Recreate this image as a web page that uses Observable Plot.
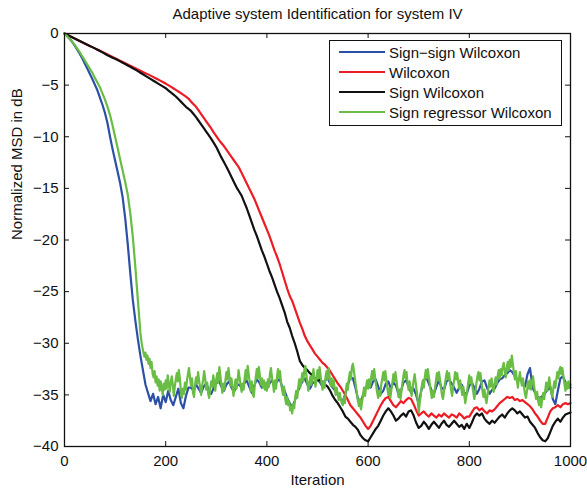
<!DOCTYPE html>
<html>
<head>
<meta charset="utf-8">
<script src="https://cdn.jsdelivr.net/npm/d3@7"></script>
<script src="https://cdn.jsdelivr.net/npm/@observablehq/plot@0.6"></script>
<style>
  html, body { margin: 0; padding: 0; background: #fff; }
  #wrap { position: relative; width: 587px; height: 493px; font-family: "Liberation Sans", Arial, sans-serif; }
  #legend { position: absolute; left: 329px; top: 40px; width: 231px; height: 82px; border: 1px solid #111;
            background: #fff; padding: 1px 0; box-sizing: content-box; }
  .row { height: 20px; display: flex; align-items: center; font-size: 15px; color: #111; }
  .sw { width: 46px; height: 0; border-top: 2.5px solid; margin-left: 9px; margin-right: 4px; }
</style>
</head>
<body>
<div id="wrap"></div>
<script>
// ---------------- data ----------------
const title = "Adaptive system Identification for system IV";
const xLabel = "Iteration";
const yLabel = "Normalized MSD in dB";
const seriesNames = ["Sign\u2212sign Wilcoxon", "Wilcoxon", "Sign Wilcoxon", "Sign regressor Wilcoxon"];
const seriesColors = ["#2c50a5", "#ed1c24", "#111111", "#69bd45"];
const xTicks = [0, 200, 400, 600, 800, 1000];
const yTicks = [0, -5, -10, -15, -20, -25, -30, -35, -40];

// iteration indices
const iterCoarse = d3.range(0, 1001, 5);   // every 5th iteration, 0..1000
const iterDescent = d3.range(0, 150, 5);   // every 5th iteration, 0..145
const iterFine = d3.range(150, 1001, 2);   // every 2nd iteration, 150..1000

// Sign-sign Wilcoxon (blue), every 5th iteration
const signSign = [
  0, -0.25, -0.5, -0.8, -1.15, -1.55, -1.95, -2.4, -2.9, -3.4,
  -3.9, -4.4, -4.95, -5.5, -6.2, -6.9, -7.7, -8.7, -10.0, -11.2,
  -12.3, -13.4, -14.5, -15.9, -17.9, -20.4, -23.2, -25.8, -27.8, -29.6,
  -31.2, -32.6, -34.0, -34.8, -35.6, -34.9, -35.9, -35.2, -36.3, -35.0,
  -35.7, -34.6, -35.5, -36.0, -35.2, -34.4, -35.8, -36.3, -35.1, -34.3,
  -34.3, -34.6, -34.0, -34.4, -34.8, -34.2, -33.9, -34.5, -34.9, -34.3,
  -33.9, -33.6, -34.2, -34.6, -34.0, -33.7, -34.3, -34.7, -34.1, -34.0,
  -34.3, -33.9, -33.6, -34.2, -34.8, -34.1, -33.5, -33.8, -34.3, -34.0,
  -34.4, -33.9, -33.6, -34.1, -33.7, -33.4, -34.2, -34.6, -35.3, -35.8,
  -36.2, -35.6, -34.8, -34.2, -33.7, -33.4, -34.0, -34.4, -33.9, -33.7,
  -33.5, -33.8, -34.2, -33.6, -33.4, -33.9, -34.3, -34.6, -35.0, -35.4,
  -35.6, -34.9, -34.0, -33.3, -33.4, -34.3, -35.4, -35.8, -35.0, -34.3,
  -34.1, -34.3, -33.7, -33.5, -34.2, -34.9, -34.6, -33.9, -33.7, -34.4,
  -33.8, -34.1, -34.9, -34.6, -33.8, -33.6, -34.2, -34.8, -34.4, -35.0,
  -35.9, -34.6, -33.6, -33.3, -33.9, -34.5, -34.9, -34.2, -33.6, -34.3,
  -34.5, -33.7, -33.5, -33.9, -34.3, -34.8, -34.3, -34.0, -34.8, -34.9,
  -34.1, -33.8, -34.3, -34.9, -34.4, -33.7, -33.6, -34.3, -34.9, -34.5,
  -34.4, -33.9, -33.5, -33.4, -33.1, -32.9, -32.6, -32.8, -33.2, -33.6,
  -33.5, -33.8, -34.2, -33.0, -32.4, -34.3, -34.8, -35.2, -35.3, -35.1,
  -34.8, -34.5, -34.2, -35.4, -35.9, -34.6, -33.4, -33.2, -33.8, -34.2,
  -34.3
];

// Wilcoxon (red), every 5th iteration
const wilcoxon = [
  0, -0.12, -0.24, -0.36, -0.48, -0.6, -0.72, -0.84, -0.96, -1.08,
  -1.2, -1.32, -1.44, -1.56, -1.68, -1.8, -1.92, -2.04, -2.16, -2.28,
  -2.4, -2.52, -2.64, -2.76, -2.88, -3.0, -3.12, -3.24, -3.36, -3.48,
  -3.6, -3.72, -3.84, -3.96, -4.08, -4.2, -4.33, -4.46, -4.59, -4.72,
  -4.85, -5.0, -5.15, -5.3, -5.46, -5.62, -5.78, -5.95, -6.12, -6.3,
  -6.6, -6.85, -7.1, -7.45, -7.8, -8.15, -8.5, -8.85, -9.2, -9.6,
  -9.95, -10.3, -10.6, -10.9, -11.25, -11.6, -11.95, -12.3, -12.65, -13.0,
  -13.5, -14.0, -14.5, -15.0, -15.5, -16.0, -16.6, -17.2, -17.8, -18.4,
  -19.0, -19.6, -20.3, -21.0, -21.6, -22.3, -23.1, -23.9, -24.7, -25.4,
  -25.9, -26.6, -27.3, -28.0, -28.6, -29.3, -29.8, -30.2, -30.6, -31.0,
  -31.3, -31.6, -31.9, -32.1, -32.4, -32.7, -33.1, -33.5, -33.9, -34.2,
  -34.6, -35.0, -35.5, -36.0, -36.3, -36.6, -36.9, -37.2, -37.6, -38.0,
  -38.3, -38.0, -37.5, -37.0, -36.5, -36.0, -35.6, -35.3, -35.2, -35.6,
  -36.0, -36.2, -35.9, -35.6, -35.8, -35.5, -35.3, -35.4, -35.9, -36.5,
  -37.0, -36.8, -36.6, -36.9, -37.1, -36.8, -37.0, -37.2, -36.9, -37.1,
  -36.8, -37.0, -37.2, -36.9, -37.0, -37.2, -36.8, -37.0, -37.3, -37.1,
  -37.1, -36.7, -36.3, -36.2, -36.5, -36.3, -36.6, -36.8, -36.5, -36.6,
  -36.4, -36.1, -35.8, -35.6, -35.4, -35.2, -35.3, -35.2, -35.5, -35.4,
  -35.6, -35.5, -35.7, -35.9, -36.1, -36.4, -36.8, -37.1, -37.5, -37.8,
  -37.8, -37.2, -36.6, -36.3, -36.2, -36.0, -36.2, -35.9, -35.8, -35.9,
  -35.8
];

// Sign Wilcoxon (black), every 5th iteration
const signWilcoxon = [
  0, -0.12, -0.24, -0.36, -0.48, -0.6, -0.72, -0.84, -0.96, -1.08,
  -1.2, -1.32, -1.44, -1.57, -1.7, -1.83, -1.96, -2.1, -2.22, -2.34,
  -2.45, -2.57, -2.7, -2.83, -2.96, -3.09, -3.22, -3.36, -3.5, -3.65,
  -3.8, -3.95, -4.1, -4.25, -4.4, -4.55, -4.7, -4.85, -5.0, -5.15,
  -5.3, -5.5, -5.7, -5.9, -6.1, -6.35, -6.6, -6.85, -7.1, -7.3,
  -7.5, -7.8, -8.1, -8.45, -8.8, -9.15, -9.5, -9.85, -10.2, -10.6,
  -11.0, -11.5, -12.0, -12.45, -12.9, -13.4, -13.9, -14.4, -14.9, -15.3,
  -15.7, -16.3, -16.9, -17.6, -18.3, -19.0, -19.6, -20.3, -21.0, -21.6,
  -22.3, -23.0, -23.6, -24.3, -25.0, -25.6, -26.3, -27.0, -27.9, -28.5,
  -29.3, -30.0, -30.8, -31.7, -32.1, -32.4, -32.6, -32.9, -33.1, -33.4,
  -33.6, -33.5, -33.8, -34.0, -34.2, -34.6, -35.1, -35.5, -35.8, -36.2,
  -36.6, -37.1, -37.3, -37.6, -37.9, -38.1, -38.4, -38.9, -39.2, -39.4,
  -39.5, -39.1, -38.7, -38.3, -38.0, -37.5, -37.0, -36.6, -36.3, -36.6,
  -37.0, -37.5, -37.3, -37.0, -36.8, -37.1, -36.6, -36.5, -37.0, -37.7,
  -38.2, -38.0, -37.6, -37.9, -38.3, -37.9, -37.6, -37.9, -38.2, -37.8,
  -37.5, -37.9, -38.1, -37.8, -37.5, -37.8, -38.1, -37.9, -38.3, -37.8,
  -38.2, -37.7, -37.1, -36.8, -37.0, -36.8, -37.3, -37.6, -37.8, -37.5,
  -37.7, -37.4, -37.1, -36.9, -37.2, -36.8, -36.5, -36.3, -36.5, -36.8,
  -36.6, -36.9, -37.2, -37.1, -37.6, -37.9, -38.2, -38.7, -39.1, -39.4,
  -39.5, -39.2, -38.6, -38.0, -37.6, -37.3, -37.6, -37.2, -36.9, -36.8,
  -36.7
];

// Sign regressor Wilcoxon (green): descent, every 5th iteration 0..145
const signRegressorDescent = [
  0, -0.25, -0.5, -0.8, -1.1, -1.45, -1.8, -2.2, -2.6, -3.0,
  -3.4, -3.8, -4.3, -4.75, -5.2, -5.8, -6.4, -7.1, -7.9, -8.9,
  -10.0, -11.1, -12.2, -13.3, -14.4, -15.6, -17.4, -19.7, -22.6, -25.8
];

// Sign regressor Wilcoxon (green): steady state, every 2nd iteration 150..1000
const signRegressorFloor = [
  -29.0, -29.8, -30.4, -30.9, -31.3,  -30.9, -31.6, -31.2, -32.0, -31.5,  -32.4, -31.8, -32.9, -33.3, -32.7,  -33.8, -33.2, -34.1, -33.5, -34.6,  -33.7, -34.3, -35.0, -33.9, -34.5,
  -33.6, -34.4, -33.1, -33.9, -34.7,  -33.8, -33.2, -34.0, -35.1, -34.2,  -33.5, -32.9, -33.7, -32.6, -33.4,  -34.6, -35.3, -34.4, -34.9, -33.8,  -34.5, -33.6, -33.0, -32.4, -33.3,
  -34.1, -33.4, -34.8, -35.2, -34.0,  -33.3, -33.9, -32.8, -33.6, -34.3,  -35.0, -34.1, -33.5, -32.7, -33.4,  -34.5, -33.8, -34.9, -35.3, -34.4,  -33.7, -34.2, -33.1, -33.8, -34.6,
  -33.5, -32.9, -33.8, -32.3, -33.1,  -34.0, -34.8, -33.9, -34.5, -33.6,  -32.8, -33.5, -32.4, -33.2, -34.1,  -33.4, -34.3, -35.1, -34.2, -33.5,  -34.4, -33.7, -32.6, -33.3, -34.0,
  -34.7, -33.9, -34.5, -33.4, -32.6,  -33.5, -32.2, -33.0, -33.8, -34.6,  -33.7, -34.9, -35.2, -34.1, -33.3,  -32.5, -33.4, -32.3, -33.1, -34.0,  -33.4, -34.3, -33.6, -34.5, -33.8,
  -34.6, -33.5, -34.2, -33.0, -32.4,  -33.3, -33.9, -34.7, -33.6, -34.4,  -33.2, -32.5, -33.4, -32.7, -33.8,  -34.5, -35.0, -34.2, -35.3, -35.9,  -35.2, -36.0, -35.6, -36.5, -36.1,
  -36.8, -35.9, -36.3, -35.2, -34.6,  -35.3, -34.2, -33.5, -34.3, -33.6,  -32.9, -33.7, -32.6, -32.2, -33.1,  -33.8, -34.6, -33.9, -33.2, -34.0,  -33.3, -32.5, -33.4, -34.2, -33.5,
  -32.6, -33.4, -32.3, -33.1, -33.9,  -34.5, -33.7, -34.3, -33.2, -32.7,  -33.5, -32.4, -33.3, -34.1, -33.4,  -34.2, -33.6, -34.4, -35.0, -34.3,  -34.9, -35.5, -34.8, -35.4, -35.8,
  -36.0, -35.3, -35.8, -34.6, -33.9,  -34.5, -33.4, -32.8, -33.5, -32.3,  -32.0, -32.7, -33.4, -34.2, -34.9,  -35.6, -36.1, -35.4, -36.4, -35.7,  -35.0, -34.3, -35.1, -34.2, -33.6,
  -34.4, -33.5, -34.2, -33.3, -32.7,  -33.5, -32.5, -33.4, -34.1, -34.8,  -35.3, -34.6, -35.1, -34.0, -33.4,  -32.8, -33.6, -32.7, -33.5, -34.3,  -35.0, -34.4, -35.3, -34.5, -33.8,
  -33.0, -33.7, -32.8, -33.6, -34.4,  -35.2, -34.5, -35.4, -34.6, -33.8,  -33.1, -32.6, -33.4, -32.8, -33.9,  -34.5, -33.7, -34.3, -35.1, -34.4,  -33.6, -33.0, -33.8, -34.6, -35.5,
  -36.7, -35.8, -35.0, -34.2, -33.6,  -34.3, -33.3, -32.6, -33.4, -32.5,  -33.2, -34.0, -34.7, -35.3, -34.6,  -35.2, -34.4, -33.7, -32.9, -33.6,  -32.8, -33.5, -34.3, -35.0, -35.4,
  -34.6, -33.9, -33.2, -32.7, -33.5,  -32.9, -33.8, -34.5, -35.1, -34.3,  -33.6, -32.8, -33.5, -32.9, -33.7,  -34.4, -33.6, -34.3, -35.0, -34.2,  -35.0, -35.8, -35.2, -34.5, -33.8,
  -33.1, -33.9, -33.3, -34.1, -34.8,  -35.4, -34.7, -33.9, -33.2, -32.8,  -33.6, -32.9, -33.8, -34.6, -35.2,  -34.5, -35.3, -35.8, -35.0, -34.3,  -33.6, -34.2, -33.4, -34.1, -34.7,
  -34.0, -33.3, -34.0, -33.2, -32.6,  -33.4, -32.5, -33.1, -32.3, -31.9,  -32.6, -33.3, -32.4, -31.8, -32.6,  -31.6, -32.3, -31.2, -32.0, -32.8,  -33.5, -32.7, -33.6, -34.3, -33.4,
  -32.8, -33.6, -34.1, -33.4, -34.2,  -34.9, -35.3, -34.6, -33.7, -34.4,  -33.6, -34.5, -33.8, -33.2, -34.1,  -34.8, -35.4, -34.7, -35.6, -36.0,  -35.3, -36.2, -35.5, -34.8, -35.4,
  -34.6, -33.8, -34.6, -34.0, -33.3,  -34.1, -34.8, -35.2, -34.4, -33.7,  -34.3, -33.5, -32.8, -33.4, -32.6,  -32.3, -33.0, -32.4, -33.2, -33.9,  -34.6, -33.8, -34.4, -33.7, -34.3,
  -34.0
];

// ---------------- chart ----------------
const W = 587, H = 493;
const mTop = 33, mLeft = 64, mRight = 17, mBottom = 47;
const frameH = H - mTop - mBottom, frameW = W - mLeft - mRight;
const tickLen = 5;

const toRows = (iters, vals) => vals.slice(0, iters.length).map((v, i) => ({iter: iters[i], msd: v}));
const greenRows = toRows(iterDescent, signRegressorDescent).concat(toRows(iterFine, signRegressorFloor));
const seriesRows = [
  toRows(iterCoarse, signSign),
  toRows(iterCoarse, wilcoxon),
  toRows(iterCoarse, signWilcoxon),
  greenRows
];

const lineMarks = seriesRows.map((rows, k) =>
  Plot.line(rows, {
    x: "iter", y: "msd", stroke: seriesColors[k], strokeWidth: 2.2, strokeLinejoin: "round"
  })
);

const chart = Plot.plot({
  width: W, height: H,
  marginTop: mTop, marginLeft: mLeft, marginRight: mRight, marginBottom: mBottom,
  x: {domain: [0, 1000]},
  y: {domain: [-40, 0]},
  style: {fontFamily: "'Liberation Sans', Arial, sans-serif", fontSize: "15px", color: "#111", background: "#fff"},
  marks: [
    ...lineMarks,
    Plot.frame({stroke: "#111", strokeWidth: 1.3}),
    Plot.axisX({ticks: xTicks, tickSize: 0, tickPadding: 9, label: null, fontSize: 15, tickFormat: d3.format("d")}),
    Plot.axisY({ticks: yTicks, tickSize: 0, tickPadding: 6, label: null, fontSize: 15, tickFormat: d3.format("d")}),
    // inward ticks (bottom, top, left, right)
    Plot.tickX(xTicks, {x: d => d, insetTop: frameH - tickLen, stroke: "#111"}),
    Plot.tickX(xTicks, {x: d => d, insetBottom: frameH - tickLen, stroke: "#111"}),
    Plot.tickY(yTicks, {y: d => d, insetRight: frameW - tickLen, stroke: "#111"}),
    Plot.tickY(yTicks, {y: d => d, insetLeft: frameW - tickLen, stroke: "#111"}),
    Plot.text([title], {frameAnchor: "top", dy: -19, text: d => d, lineAnchor: "middle", fontSize: 15, fill: "#111"}),
    Plot.text([xLabel], {frameAnchor: "bottom", dy: 34, text: d => d, lineAnchor: "middle", fontSize: 15, fill: "#111"}),
    Plot.text([yLabel], {frameAnchor: "left", dx: -47, rotate: -90, text: d => d, lineAnchor: "middle", fontSize: 15, fill: "#111"})
  ]
});

const wrap = document.getElementById("wrap");
wrap.appendChild(chart);

// legend
const legend = document.createElement("div");
legend.id = "legend";
seriesNames.forEach((name, k) => {
  const row = document.createElement("div");
  row.className = "row";
  const sw = document.createElement("span");
  sw.className = "sw";
  sw.style.borderTopColor = seriesColors[k];
  const tx = document.createElement("span");
  tx.textContent = name;
  row.appendChild(sw);
  row.appendChild(tx);
  legend.appendChild(row);
});
wrap.appendChild(legend);
</script>
</body>
</html>
